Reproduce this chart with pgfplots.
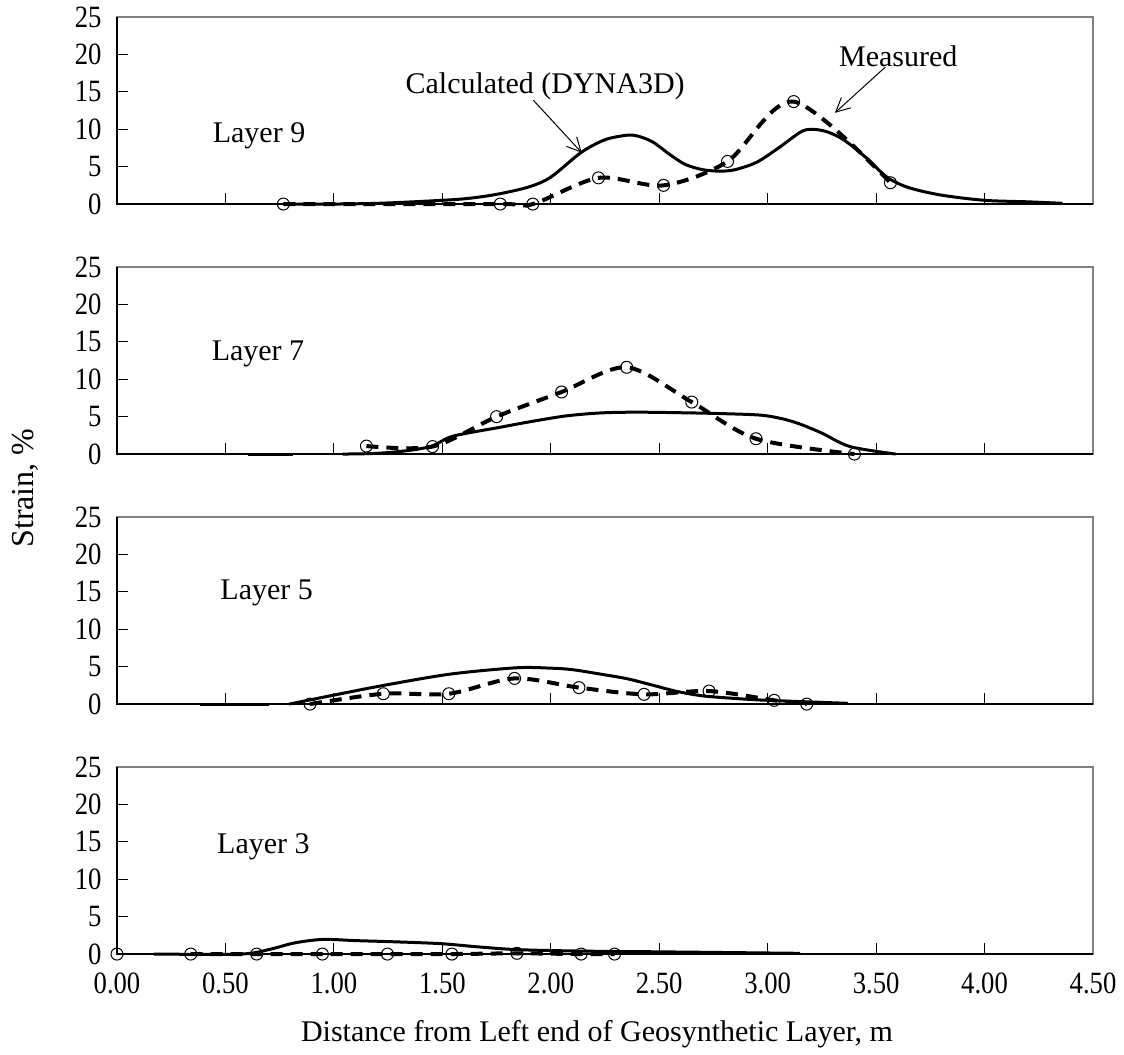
\documentclass[border=0pt]{standalone}
\usepackage{fontspec}
\setmainfont{Liberation Serif}
\usepackage{pgfplots}
\pgfplotsset{compat=1.18}
\usetikzlibrary{arrows.meta}

% common look of the four strain panels
\pgfplotsset{
  panel/.style={
    width=488pt, height=93.5pt, scale only axis,
    anchor=south west,
    xmin=0, xmax=4.5, ymin=0, ymax=25,
    xtick={0,0.5,...,4.5}, ytick={0,5,...,25},
    tick align=inside, xtick pos=bottom, ytick pos=left,
    major tick length=5.5pt,
    every tick/.style={black, line width=0.5pt},
    axis line style={draw=black!50, line width=0.6pt},
    clip=false,
    /pgf/number format/assume math mode=true,
    tick label style={font=\fontsize{15.5}{18}\selectfont, black, xscale=0.86},
    yticklabel style={xshift=-5.5pt},
    xticklabels={},
  },
  calc/.style={black, line width=1.5pt, smooth, tension=0.5, mark=none},
  meas/.style={black, line width=2pt, dash pattern=on 6pt off 4pt,
    smooth, tension=0.5, mark=o, mark size=3pt,
    mark options={solid, line width=0.5pt, fill=none}},
  markonly/.style={black, only marks, mark=o, mark size=3pt,
    mark options={solid, line width=0.5pt, fill=none}},
}
\newcommand\spines{%
  \draw[black, line width=0.6pt] (rel axis cs:0,1) -- (rel axis cs:0,0) -- (rel axis cs:1,0);}
\newcommand\lbl{\fontsize{15}{18}\selectfont}

\begin{document}
\begin{tikzpicture}
\path (-58.5pt,-49.5pt) rectangle (503.5pt,476.5pt);

% ---------------- Layer 9 ----------------
\begin{axis}[panel, at={(0,375pt)}]
\spines
\addplot[calc] coordinates {
 (0.77,0) (1.0,0) (1.2,0.1) (1.4,0.35) (1.6,0.7) (1.75,1.3) (1.9,2.3)
 (2.0,3.6) (2.14,6.9) (2.25,8.6) (2.35,9.2) (2.4,9.1) (2.47,8.3) (2.55,6.6)
 (2.62,5.3) (2.7,4.6) (2.78,4.4) (2.85,4.6) (2.95,5.6) (3.05,7.5) (3.15,9.6)
 (3.2,10.0) (3.27,9.7) (3.35,8.6) (3.45,6.3) (3.55,3.6) (3.65,2.2) (3.8,1.2)
 (4.0,0.5) (4.2,0.3) (4.36,0.1)};
\addplot[meas] coordinates {
 (0.767,0) (1.767,0) (1.917,0) (2.22,3.5) (2.52,2.5) (2.815,5.7)
 (3.12,13.7) (3.566,2.85)};
\node[font=\lbl] at (axis cs:0.655,9.1) {Layer 9};
\node[font=\lbl] at (axis cs:1.974,15.8) {Calculated (DYNA3D)};
\draw[line width=0.5pt, -{Straight Barb[length=7pt,width=7pt]}]
  (axis cs:1.919,13.9) -- (axis cs:2.143,6.86);
\node[font=\lbl] at (axis cs:3.602,19.8) {Measured};
\draw[line width=0.5pt, -{Straight Barb[length=7pt,width=7pt]}]
  (axis cs:3.542,18.3) -- (axis cs:3.31,12.2);
\end{axis}

% ---------------- Layer 7 ----------------
\begin{axis}[panel, at={(0,250pt)}]
\spines
\addplot[calc] coordinates {(0.606,0) (0.813,0)};
\addplot[calc] coordinates {
 (1.04,0) (1.2,0.1) (1.35,0.5) (1.455,1.1) (1.55,2.4) (1.77,3.6) (1.9,4.3)
 (2.07,5.1) (2.23,5.5) (2.4,5.6) (2.65,5.5) (2.8,5.4) (2.97,5.2) (3.07,4.7)
 (3.15,4.0) (3.25,2.8) (3.38,1.0) (3.59,0)};
\addplot[meas] coordinates {
 (1.15,1.07) (1.455,1.0) (1.75,5.0) (2.05,8.3) (2.35,11.6) (2.65,6.95)
 (2.946,2.05) (3.40,0)};
\node[font=\lbl] at (axis cs:0.65,13.4) {Layer 7};
\end{axis}

% ---------------- Layer 5 ----------------
\begin{axis}[panel, at={(0,125pt)}]
\spines
\addplot[calc] coordinates {(0.383,0) (0.698,0)};
\addplot[calc] coordinates {
 (0.795,0) (1.0,1.2) (1.23,2.5) (1.535,4.0) (1.84,4.85) (2.0,4.8) (2.1,4.6)
 (2.23,4.0) (2.35,3.4) (2.46,2.6) (2.58,1.7) (2.7,1.1) (2.85,0.75) (3.0,0.5)
 (3.37,0.1)};
\addplot[meas] coordinates {
 (0.89,0) (1.228,1.38) (1.53,1.38) (1.833,3.43) (2.13,2.2) (2.43,1.3)
 (2.73,1.74) (3.03,0.5) (3.18,0)};
\node[font=\lbl] at (axis cs:0.69,14.9) {Layer 5};
\end{axis}

% ---------------- Layer 3 ----------------
\begin{axis}[panel, at={(0,0)},
  xticklabel={\pgfmathprintnumber[fixed,fixed zerofill,precision=2]{\tick}},
  xticklabel style={yshift=-6pt}]
\spines
\addplot[calc] coordinates {
 (0.17,0) (0.57,0) (0.7,0.6) (0.82,1.5) (0.95,1.96) (1.1,1.8) (1.27,1.65)
 (1.49,1.4) (1.65,1.0) (1.84,0.6) (2.14,0.4) (2.5,0.3) (3.15,0.1)};
\addplot[meas] coordinates {
 (0.34,0) (0.644,0) (0.947,0) (1.247,0) (1.544,0) (1.844,0.1) (2.14,0)
 (2.294,0)};
\addplot[markonly] coordinates {(0,0)};
\node[font=\lbl] at (axis cs:0.675,14.4) {Layer 3};
\end{axis}

\node[font=\fontsize{16}{19}\selectfont, rotate=90] at (-46pt,233pt) {Strain, \%};
\node[font=\lbl] at (240pt,-40pt) {Distance from Left end of Geosynthetic Layer, m};
\end{tikzpicture}
\end{document}
